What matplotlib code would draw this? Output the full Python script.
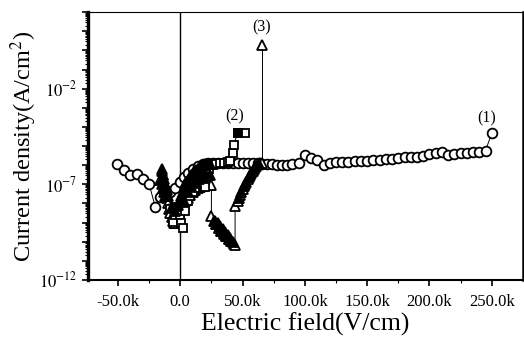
import numpy as np
import matplotlib
matplotlib.use("Agg")
import matplotlib.pyplot as plt
from matplotlib.ticker import FixedLocator, NullFormatter, LogLocator

# electric field in kV/cm, current density as log10(A/cm^2)
circ_x = [-51, -45, -40, -35, -30, -25, -20, -16, -12, -8, -4, 0, 3, 6, 10, 14, 18,
          22, 26, 30, 34, 38, 42, 46, 50, 54, 58, 62, 66, 70, 74, 78, 82, 86, 90, 95,
          100, 105, 110, 115, 120, 125, 130, 135, 140, 145, 150, 155, 160, 165, 170,
          175, 180, 185, 190, 195, 200, 205, 210, 215, 220, 225, 230, 235, 240, 245, 250]
circ_y = [-5.94, -6.26, -6.52, -6.46, -6.73, -6.99, -8.19, -7.67, -7.5, -7.4, -7.2, -6.9,
          -6.6, -6.4, -6.2, -6.05, -5.95, -5.9, -5.9, -5.89, -5.89, -5.89, -5.88, -5.88,
          -5.88, -5.89, -5.9, -5.9, -5.92, -5.94, -5.96, -5.97, -5.99, -5.98, -5.94, -5.9,
          -5.47, -5.63, -5.73, -5.99, -5.89, -5.86, -5.84, -5.82, -5.8, -5.78, -5.76,
          -5.73, -5.71, -5.68, -5.66, -5.63, -5.6, -5.58, -5.55, -5.5, -5.4, -5.34, -5.33,
          -5.47, -5.42, -5.39, -5.37, -5.33, -5.3, -5.24, -4.32]

sq_x = [-8, -6, -4, -2, 0, 1, 2, 4, 6, 8, 10, 12, 14, 16, 18, 20, 23, 26, 29, 32, 35,
        38, 40, 42, 43, 46, 52]
sq_y = [-8.3, -8.97, -8.6, -8.2, -8.6, -9.0, -9.29, -8.4, -7.9, -7.6, -7.4, -7.2, -7.0,
        -6.8, -6.7, -7.14, -6.2, -6.0, -5.95, -5.9, -5.9, -5.85, -5.8, -5.37, -4.95,
        -4.32, -4.32]

tri_x = [-15, -14, -13, -12, -11, -10, -9, -8, -7, -6, -5, -4, -3, -2, -1, 0, 2, 4, 6,
         8, 10, 12, 14, 16, 18, 20, 22, 24, 25, 25, 27, 29, 31, 33, 35, 37, 39, 41, 43,
         44, 44, 46, 48, 50, 52, 54, 56, 58, 60, 62, 64, 66, 66]
tri_y = [-6.2, -6.5, -6.9, -7.3, -7.7, -8.0, -8.3, -8.5, -8.7, -8.9, -9.0, -9.0, -8.8,
         -8.6, -8.4, -8.3, -8.1, -7.9, -7.7, -7.55, -7.4, -7.3, -7.2, -7.15, -7.1, -7.05,
         -7.05, -7.04, -7.04, -8.65, -8.9, -9.1, -9.3, -9.45, -9.55, -9.7, -9.85, -9.95,
         -10.1, -10.2, -8.15, -7.85, -7.55, -7.25, -7.0, -6.75, -6.5, -6.3, -6.1, -5.95,
         -5.9, -5.88, 0.28]

# filled triangles in the dense clusters
fill_x = [-16, -15, -15, -14, -14, -13, -13, -12, -12, -11, -10, -7, -4, -2, 0, 1, 2,
          3, 4, 5, 6, 7, 8, 9, 10, 11, 12, 13, 14, 15, 16, 17, 18, 19, 20, 21, 22, 23,
          24, 3, 6, 9, 12, 15, 18, 21, 24, 28, 29, 30, 31, 32, 33, 34, 35, 36, 37, 38,
          39, 40, 41, 42, 47, 49, 51, 53, 55, 57, 59, 61, 63]
fill_y = [-6.8, -6.3, -7.0, -6.5, -7.2, -6.7, -7.4, -7.0, -7.6, -7.3, -7.6, -8.2, -8.4,
          -8.1, -7.8, -7.6, -7.4, -7.2, -7.0, -6.9, -6.8, -6.7, -6.6, -6.5, -6.4, -6.35,
          -6.3, -6.25, -6.2, -6.15, -6.1, -6.05, -6.0, -6.0, -5.95, -5.95, -5.95, -5.95,
          -5.92, -7.9, -7.4, -7.1, -6.9, -6.7, -6.6, -6.5, -6.5, -8.9, -9.1, -9.0, -9.3,
          -9.2, -9.45, -9.35, -9.6, -9.5, -9.7, -9.65, -9.85, -9.8, -9.95, -10.0, -7.7,
          -7.4, -7.1, -6.9, -6.6, -6.4, -6.2, -6.05, -5.95]

labels = ["(1)", "(2)", "(3)"]
label_pos = [(246, -3.55), (44, -3.45), (65, 1.2)]

plt.rcParams['font.family'] = ['Liberation Serif', 'DejaVu Serif']
plt.rcParams['mathtext.fontset'] = 'stix'

fig = plt.figure(figsize=(5.24, 3.38), dpi=100)
ax = fig.add_axes([0.168, 0.172, 0.83, 0.792])

ax.axvline(0, color='black', lw=1.0, zorder=1)

def p(x, y, **kw):
    ax.plot(np.array(x) * 1000, np.power(10.0, y), color='black', lw=0.7,
            markeredgecolor='black', markeredgewidth=1.3, **kw)

p(circ_x, circ_y, marker='o', markersize=7, markerfacecolor='white', zorder=3)
p(tri_x, tri_y, marker='^', markersize=6.5, markerfacecolor='white', zorder=4)
p(sq_x, sq_y, marker='s', markersize=5.5, markerfacecolor='white', zorder=4)
p(fill_x, fill_y, marker='^', markersize=6.5, markerfacecolor='black', ls='none', zorder=5)
p([46], [-4.32], marker='s', markersize=5.5, markerfacecolor='black', ls='none', zorder=5)

for t, (lx, ly) in zip(labels, label_pos):
    ax.text(lx * 1000, 10 ** ly, t, fontsize=11.5, ha='center', va='center')

ax.set_yscale('log')
ax.set_xlim(-74000, 275000)
ax.set_ylim(1e-12, 1e2)

ax.set_xticks([-50000, 0, 50000, 100000, 150000, 200000, 250000])
ax.set_xticklabels(["-50.0k", "0.0", "50.0k", "100.0k", "150.0k", "200.0k", "250.0k"])
ax.xaxis.set_minor_locator(FixedLocator([-25000, 25000, 75000, 125000, 175000, 225000]))

ax.yaxis.set_major_locator(FixedLocator([10.0 ** e for e in range(-12, 3)]))
ax.yaxis.set_minor_locator(LogLocator(base=10, subs=np.arange(2, 10), numticks=100))
ax.yaxis.set_minor_formatter(NullFormatter())
ylab = {-12: r"$10^{-12}$", -7: r"$10^{-7}$", -2: r"$10^{-2}$"}
ax.set_yticklabels([ylab.get(e, "") for e in range(-12, 3)])

ax.tick_params(which='major', direction='out', length=4, width=1.2, labelsize=12)
ax.tick_params(which='minor', direction='out', length=2, width=0.8)
ax.tick_params(axis='x', pad=6)

ax.spines['left'].set_linewidth(2.4)
ax.spines['bottom'].set_linewidth(1.5)
ax.spines['right'].set_linewidth(1.8)
ax.spines['top'].set_linewidth(0.8)

ax.set_xlabel("Electric field(V/cm)", fontsize=18.5, labelpad=2)
ax.set_ylabel(r"Current density(A/cm$^2$)", fontsize=17.5, labelpad=0)

fig.savefig("out.png", dpi=100)
